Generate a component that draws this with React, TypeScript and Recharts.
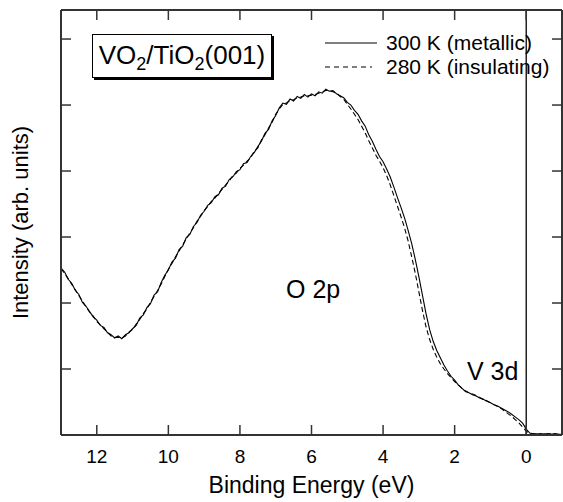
import {
  LineChart,
  Line,
  XAxis,
  YAxis,
  ReferenceLine,
} from "recharts";

// binding energy grid (eV), high to low
const energies = [
  13.0, 12.9, 12.8, 12.7, 12.6, 12.5, 12.4, 12.3, 12.2, 12.1,
  12.0, 11.9, 11.8, 11.7, 11.6, 11.5, 11.4, 11.3, 11.2, 11.1,
  11.0, 10.9, 10.8, 10.7, 10.6, 10.5, 10.4, 10.3, 10.2, 10.1,
  10.0, 9.9, 9.8, 9.7, 9.6, 9.5, 9.4, 9.3, 9.2, 9.1,
  9.0, 8.9, 8.8, 8.7, 8.6, 8.5, 8.4, 8.3, 8.2, 8.1,
  8.0, 7.9, 7.8, 7.7, 7.6, 7.5, 7.4, 7.3, 7.2, 7.1,
  7.0, 6.9, 6.8, 6.7, 6.6, 6.5, 6.4, 6.3, 6.2, 6.1,
  6.0, 5.9, 5.8, 5.7, 5.6, 5.5, 5.4, 5.3, 5.2, 5.1,
  5.0, 4.9, 4.8, 4.7, 4.6, 4.5, 4.4, 4.3, 4.2, 4.1,
  4.0, 3.9, 3.8, 3.7, 3.6, 3.5, 3.4, 3.3, 3.2, 3.1,
  3.0, 2.9, 2.8, 2.7, 2.6, 2.5, 2.4, 2.3, 2.2, 2.1,
  2.0, 1.9, 1.8, 1.7, 1.6, 1.5, 1.4, 1.3, 1.2, 1.1,
  1.0, 0.9, 0.8, 0.7, 0.6, 0.5, 0.4, 0.3, 0.2, 0.1,
  0.0, -0.1, -0.2, -0.3, -0.4, -0.5, -0.6, -0.7, -0.8, -0.9,
  -1.0,
];

// 300 K (metallic)
const metallic = [
  2.53, 2.47, 2.36, 2.30, 2.19, 2.13, 2.01, 1.95, 1.87, 1.79,
  1.74, 1.66, 1.63, 1.55, 1.52, 1.47, 1.50, 1.46, 1.52, 1.55,
  1.61, 1.66, 1.77, 1.82, 1.93, 1.99, 2.12, 2.17, 2.31, 2.42,
  2.50, 2.62, 2.68, 2.81, 2.86, 2.99, 3.04, 3.16, 3.22, 3.33,
  3.39, 3.48, 3.52, 3.61, 3.64, 3.74, 3.77, 3.87, 3.91, 3.99,
  4.02, 4.11, 4.13, 4.22, 4.28, 4.37, 4.45, 4.57, 4.63, 4.76,
  4.84, 4.96, 5.03, 5.01, 5.09, 5.06, 5.13, 5.10, 5.16, 5.12,
  5.17, 5.14, 5.20, 5.18, 5.24, 5.21, 5.22, 5.17, 5.14, 5.11,
  5.04, 5.00, 4.92, 4.86, 4.76, 4.68, 4.55, 4.45, 4.33, 4.22,
  4.14, 4.03, 3.91, 3.76, 3.60, 3.45, 3.29, 3.10, 2.90, 2.66,
  2.40, 2.12, 1.84, 1.60, 1.42, 1.28, 1.17, 1.06, 0.97, 0.89,
  0.83, 0.76, 0.71, 0.66, 0.64, 0.61, 0.59, 0.56, 0.54, 0.51,
  0.49, 0.46, 0.44, 0.41, 0.38, 0.35, 0.31, 0.27, 0.23, 0.18,
  0.09, 0.03, 0.02, 0.02, 0.01, 0.02, 0.02, 0.01, 0.02, 0.01,
  0.01,
];

// 280 K (insulating)
const insulating = [
  2.52, 2.45, 2.37, 2.28, 2.20, 2.11, 2.03, 1.94, 1.86, 1.80,
  1.72, 1.67, 1.61, 1.56, 1.50, 1.48, 1.48, 1.47, 1.50, 1.56,
  1.60, 1.68, 1.75, 1.84, 1.91, 2.01, 2.10, 2.19, 2.29, 2.40,
  2.51, 2.60, 2.70, 2.79, 2.88, 2.97, 3.06, 3.14, 3.24, 3.31,
  3.40, 3.46, 3.54, 3.59, 3.66, 3.72, 3.79, 3.85, 3.93, 3.97,
  4.04, 4.09, 4.15, 4.20, 4.30, 4.35, 4.47, 4.55, 4.65, 4.74,
  4.86, 4.94, 5.01, 5.03, 5.07, 5.08, 5.11, 5.12, 5.14, 5.14,
  5.15, 5.16, 5.18, 5.20, 5.22, 5.22, 5.20, 5.18, 5.13, 5.09,
  5.01, 4.94, 4.86, 4.78, 4.68, 4.58, 4.46, 4.35, 4.24, 4.15,
  4.05, 3.93, 3.79, 3.63, 3.47, 3.31, 3.14, 2.94, 2.70, 2.45,
  2.17, 1.89, 1.64, 1.45, 1.30, 1.18, 1.08, 1.00, 0.93, 0.87,
  0.81, 0.76, 0.71, 0.67, 0.64, 0.62, 0.60, 0.57, 0.54, 0.52,
  0.49, 0.46, 0.43, 0.40, 0.36, 0.32, 0.28, 0.23, 0.18, 0.12,
  0.06, 0.02, 0.02, 0.01, 0.02, 0.01, 0.02, 0.02, 0.01, 0.01,
  0.01,
];

const xTicks = [0, 2, 4, 6, 8, 10, 12];
const yTicks = [0, 1, 2, 3, 4, 5, 6];
const seriesNames = ["300 K (metallic)", "280 K (insulating)"];
const seriesDash = [undefined, "5 4"];

const data = energies.map((e, i) => ({
  e,
  metal: metallic[i],
  insul: insulating[i],
}));

const FRAME = "#333";
const FONT = '"Liberation Sans", Arial, Helvetica, sans-serif';
const Y_MAX = 6.44;
const X_DOMAIN = [-1, 13];

// ticks without labels (tick lines only); tick={false} would drop the lines too
const NoLabel = () => <g />;

function LegendBox() {
  return (
    <div
      style={{
        position: "absolute",
        left: 322,
        top: 31,
        fontSize: 21,
        lineHeight: "24px",
        color: "#000",
      }}
    >
      {seriesNames.map((name, i) => (
        <div key={`leg-${i}`} style={{ display: "flex", alignItems: "center" }}>
          <svg width={64} height={24}>
            <line
              x1={3}
              x2={i === 0 ? 55 : 50}
              y1={12}
              y2={12}
              stroke="#000"
              strokeWidth={1.2}
              strokeDasharray={seriesDash[i]}
            />
          </svg>
          <span style={{ whiteSpace: "nowrap" }}>{name}</span>
        </div>
      ))}
    </div>
  );
}

export default function App() {
  return (
    <div
      style={{
        position: "absolute",
        left: 0,
        top: 0,
        width: 563,
        height: 502,
        background: "#fff",
        fontFamily: FONT,
      }}
    >
      <LineChart
        width={563}
        height={502}
        data={data}
        margin={{ top: 10, right: 1, bottom: 0, left: 0 }}
      >
        {/* bottom axis: labels only */}
        <XAxis
          xAxisId="b"
          dataKey="e"
          type="number"
          domain={X_DOMAIN}
          reversed
          allowDataOverflow
          ticks={xTicks}
          height={67}
          tickLine={false}
          tickSize={6}
          tickMargin={9}
          axisLine={{ stroke: FRAME, strokeWidth: 2 }}
          tick={{ fontSize: 19, fill: "#000" }}
          label={{
            value: "Binding Energy (eV)",
            position: "insideBottom",
            offset: 9,
            fontSize: 23,
            fill: "#000",
          }}
        />
        {/* bottom axis: inward tick marks */}
        <XAxis
          xAxisId="bm"
          dataKey="e"
          type="number"
          domain={X_DOMAIN}
          reversed
          allowDataOverflow
          ticks={xTicks}
          orientation="bottom"
          mirror
          tick={NoLabel}
          tickSize={10}
          axisLine={false}
          tickLine={{ stroke: FRAME, strokeWidth: 1.5 }}
        />
        {/* top frame with inward tick marks */}
        <XAxis
          xAxisId="t"
          dataKey="e"
          type="number"
          domain={X_DOMAIN}
          reversed
          allowDataOverflow
          ticks={xTicks}
          orientation="top"
          mirror
          tick={NoLabel}
          tickSize={10}
          axisLine={{ stroke: FRAME, strokeWidth: 2 }}
          tickLine={{ stroke: FRAME, strokeWidth: 1.5 }}
        />
        <YAxis
          yAxisId="l"
          type="number"
          domain={[0, Y_MAX]}
          allowDataOverflow
          ticks={yTicks}
          width={61}
          tick={false}
          tickLine={false}
          axisLine={{ stroke: FRAME, strokeWidth: 2 }}
          label={{
            value: "Intensity (arb. units)",
            angle: -90,
            position: "insideLeft",
            offset: 20,
            fontSize: 22,
            fill: "#000",
            style: { textAnchor: "middle" },
          }}
        />
        <YAxis
          yAxisId="lm"
          type="number"
          domain={[0, Y_MAX]}
          allowDataOverflow
          ticks={yTicks}
          mirror
          tick={NoLabel}
          tickSize={10}
          axisLine={false}
          tickLine={{ stroke: FRAME, strokeWidth: 1.5 }}
        />
        <YAxis
          yAxisId="r"
          type="number"
          orientation="right"
          domain={[0, Y_MAX]}
          allowDataOverflow
          ticks={yTicks}
          mirror
          tick={NoLabel}
          tickSize={10}
          axisLine={{ stroke: FRAME, strokeWidth: 2 }}
          tickLine={{ stroke: FRAME, strokeWidth: 1.5 }}
        />
        <ReferenceLine
          x={0}
          xAxisId="b"
          yAxisId="l"
          stroke="#000"
          strokeWidth={1.3}
        />
        <Line
          xAxisId="b"
          yAxisId="l"
          dataKey="metal"
          name={seriesNames[0]}
          type="linear"
          stroke="#000"
          strokeWidth={1.1}
          dot={false}
          isAnimationActive={false}
        />
        <Line
          xAxisId="b"
          yAxisId="l"
          dataKey="insul"
          name={seriesNames[1]}
          type="linear"
          stroke="#000"
          strokeWidth={1.1}
          strokeDasharray="5 3"
          dot={false}
          isAnimationActive={false}
        />
      </LineChart>

      <LegendBox />

      <div
        style={{
          position: "absolute",
          left: 92,
          top: 34,
          width: 178,
          height: 42,
          border: "1px solid #000",
          boxShadow: "2px 2px 0 #000",
          fontSize: 26,
          lineHeight: "40px",
          textAlign: "center",
          background: "#fff",
        }}
      >
        VO<sub style={{ fontSize: 18, lineHeight: 0 }}>2</sub>/TiO
        <sub style={{ fontSize: 18, lineHeight: 0 }}>2</sub>(001)
      </div>
      <div style={{ position: "absolute", left: 286, top: 275, fontSize: 25, lineHeight: "28px" }}>
        O 2p
      </div>
      <div style={{ position: "absolute", left: 467, top: 357, fontSize: 25, lineHeight: "28px" }}>
        V 3d
      </div>
    </div>
  );
}
